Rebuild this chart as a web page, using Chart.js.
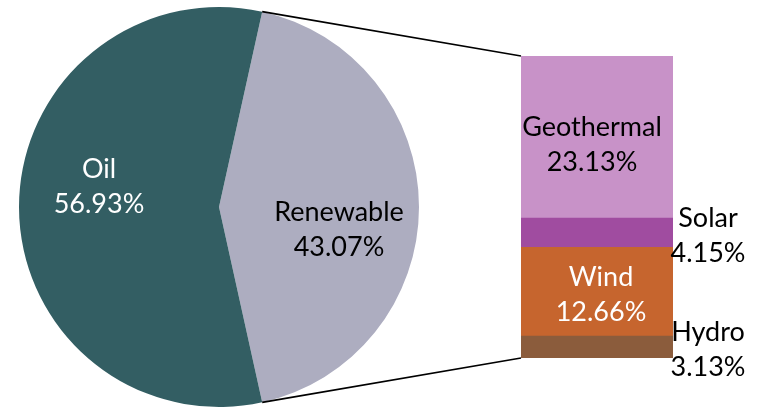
<!DOCTYPE html>
<html>
<head>
<meta charset="utf-8">
<script src="https://cdn.jsdelivr.net/npm/chart.js@4"></script>
<style>
  html, body { margin: 0; padding: 0; background: #fff; }
  #wrap { position: relative; width: 761px; height: 409px; }
  #wrap canvas { position: absolute; left: 0; top: 0; }
</style>
</head>
<body>
<div id="wrap">
  <canvas id="pie" width="761" height="409"></canvas>
  <canvas id="bar" width="761" height="409"></canvas>
</div>
<script>
// pie data
const pieLabels = ['Renewable', 'Oil']
const pieValues = [43.07, 56.93]
const pieColors = ['#ADADC0', '#335E63']

// breakdown of the renewable slice (bottom to top)
const barLabels = ['Hydro', 'Wind', 'Solar', 'Geothermal']
const barValues = [3.13, 12.66, 4.15, 23.13]
const barColors = ['#8B5C3C', '#C6652E', '#A04CA0', '#C892C8']

const FONT = '27px Lato'
const LINE = 35

function drawLabel(ctx, lines, x, y, color, align) {
  ctx.save()
  ctx.font = FONT
  ctx.fillStyle = color
  ctx.textAlign = align || 'center'
  ctx.textBaseline = 'alphabetic'
  // y is the middle of the cap height of the block
  const first = y - (lines.length - 1) * LINE / 2
  lines.forEach((l, i) => ctx.fillText(l, x, first + i * LINE + 9.5))
  ctx.restore()
}

const pct = v => v.toFixed(2) + '%'

// the renewable slice is centred on the right side of the pie
const rotation = 90 - pieValues[0] / 100 * 360 / 2

const pieChart = new Chart(document.getElementById('pie'), {
  type: 'pie',
  data: {
    labels: pieLabels,
    datasets: [{ data: pieValues, backgroundColor: pieColors, borderWidth: 0 }]
  },
  options: {
    responsive: false,
    animation: false,
    rotation: rotation,
    layout: { padding: { left: 19, right: 342, top: 7, bottom: 2 } },
    plugins: { legend: { display: false }, tooltip: { enabled: false } }
  },
  plugins: [{
    id: 'pieLabels',
    afterDraw(chart) {
      const ctx = chart.ctx
      chart.getDatasetMeta(0).data.forEach((arc, i) => {
        const mid = (arc.startAngle + arc.endAngle) / 2
        const r = arc.outerRadius * 0.6
        const x = arc.x + r * Math.cos(mid)
        const y = arc.y + r * Math.sin(mid) + (i == 0 ? 21.5 : -21.5)
        drawLabel(ctx, [pieLabels[i], pct(pieValues[i])], x, y, i == 0 ? '#000' : '#fff')
      })
    }
  }]
})

const total = barValues.reduce((a, b) => a + b, 0)

// label placement per segment: inside the bar or to its right
const barLabelStyle = [
  { outside: true, dx: 0, dy: 1.5, color: '#000' },
  { outside: false, dx: 4, dy: 2.5, color: '#fff' },
  { outside: true, dx: 0, dy: 2, color: '#000' },
  { outside: false, dx: -5, dy: 6.5, color: '#000' }
]

new Chart(document.getElementById('bar'), {
  type: 'bar',
  data: {
    labels: ['Renewable'],
    datasets: barValues.map((v, i) => ({
      label: barLabels[i],
      data: [v],
      backgroundColor: barColors[i],
      borderWidth: 0,
      barPercentage: 1,
      categoryPercentage: 1
    }))
  },
  options: {
    responsive: false,
    animation: false,
    layout: { padding: { left: 521, right: 88, top: 56, bottom: 51 } },
    scales: {
      x: { display: false, stacked: true },
      y: { display: false, stacked: true, min: 0, max: total }
    },
    plugins: { legend: { display: false }, tooltip: { enabled: false } }
  },
  plugins: [{
    id: 'connectorsAndLabels',
    afterDraw(chart) {
      const ctx = chart.ctx
      // connector lines from the renewable slice edges to the bar
      const arc = pieChart.getDatasetMeta(0).data[0]
      const top = chart.getDatasetMeta(barValues.length - 1).data[0]
      const bottom = chart.getDatasetMeta(0).data[0]
      const left = top.x - top.width / 2
      ctx.save()
      ctx.strokeStyle = '#000'
      ctx.lineWidth = 1.75
      ctx.beginPath()
      ctx.moveTo(arc.x + arc.outerRadius * Math.cos(arc.startAngle), arc.y + arc.outerRadius * Math.sin(arc.startAngle))
      ctx.lineTo(left, top.y)
      ctx.moveTo(arc.x + arc.outerRadius * Math.cos(arc.endAngle), arc.y + arc.outerRadius * Math.sin(arc.endAngle))
      ctx.lineTo(left, bottom.base)
      ctx.stroke()
      ctx.restore()

      barValues.forEach((v, i) => {
        const el = chart.getDatasetMeta(i).data[0]
        const s = barLabelStyle[i]
        const cy = (el.y + el.base) / 2 + s.dy
        const cx = s.outside ? el.x + el.width / 2 + 35 : el.x + s.dx
        drawLabel(ctx, [barLabels[i], pct(v)], cx, cy, s.color)
      })
    }
  }]
})
</script>
</body>
</html>
